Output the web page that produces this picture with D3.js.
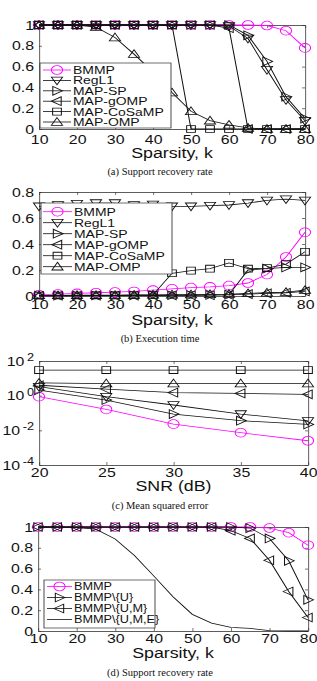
<!DOCTYPE html>
<html>
<head>
<meta charset="utf-8">
<script src="https://cdn.jsdelivr.net/npm/d3@7"></script>
<style>
  body { margin: 0; background: #fff; }
  svg { display: block; }
</style>
</head>
<body>
<svg id="fig" width="317" height="681"></svg>
<script>
// ---- data ----
const kVals = [10, 15, 20, 25, 30, 35, 40, 45, 50, 55, 60, 65, 70, 75, 80];
const snrVals = [20, 25, 30, 35, 40];

// (a) support recovery rate
const aBMMP   = [1, 1, 1, 1, 1, 1, 1, 1, 1, 1, 1, 1, 0.995, 0.945, 0.78];
const aRegL1  = [1, 1, 1, 1, 1, 1, 1, 1, 1, 1, 0.99, 0.87, 0.57, 0.28, 0.08];
const aSP     = [1, 1, 1, 1, 1, 1, 1, 1, 1, 1, 1, 0.9, 0.65, 0.31, 0.1];
const aGOMP   = [1, 1, 1, 1, 1, 1, 1, 1, 1, 1, 0.97, 0, 0, 0, 0];
const aCoSaMP = [1, 1, 1, 1, 1, 1, 1, 1, 0, 0, 0, 0, 0, 0, 0];
const aOMP    = [1, 1, 1, 0.98, 0.88, 0.72, 0.55, 0.35, 0.17, 0.08, 0.04, 0.01, 0, 0, 0];

// (b) execution time
const bBMMP   = [0.01, 0.015, 0.02, 0.025, 0.03, 0.035, 0.045, 0.055, 0.065, 0.07, 0.08, 0.1, 0.165, 0.3, 0.49];
const bRegL1  = [0.69, 0.7, 0.71, 0.715, 0.715, 0.7, 0.705, 0.69, 0.69, 0.695, 0.7, 0.715, 0.735, 0.745, 0.735];
const bSP     = [0.003, 0.003, 0.003, 0.004, 0.004, 0.005, 0.005, 0.006, 0.007, 0.008, 0.01, 0.2, 0.21, 0.22, 0.22];
const bGOMP   = [0.002, 0.002, 0.002, 0.003, 0.003, 0.003, 0.004, 0.005, 0.005, 0.006, 0.008, 0.015, 0.02, 0.025, 0.035];
const bCoSaMP = [0.004, 0.004, 0.004, 0.005, 0.005, 0.006, 0.008, 0.175, 0.195, 0.21, 0.255, 0.21, 0.215, 0.245, 0.34];
const bOMP    = [0.005, 0.005, 0.006, 0.006, 0.007, 0.008, 0.009, 0.01, 0.011, 0.013, 0.015, 0.02, 0.025, 0.03, 0.045];

// (c) mean squared error vs SNR
const cBMMP   = [0.87, 0.16, 0.023, 0.0073, 0.0025];
const cRegL1  = [3.3, 0.87, 0.29, 0.087, 0.035];
const cSP     = [2.1, 0.56, 0.087, 0.036, 0.022];
const cGOMP   = [4, 2.4, 1.5, 1.35, 1.2];
const cCoSaMP = [30, 30, 30, 30, 30];
const cOMP    = [5.5, 5, 5, 5, 5];

// (d) support recovery rate, ablation
const dBMMP = [1, 1, 1, 1, 1, 1, 1, 1, 1, 1, 1, 1, 0.99, 0.945, 0.825];
const dU    = [1, 1, 1, 1, 1, 1, 1, 1, 1, 1, 1, 0.99, 0.89, 0.675, 0.3];
const dUM   = [1, 1, 1, 1, 1, 1, 1, 1, 1, 1, 0.965, 0.89, 0.68, 0.38, 0.13];
const dUME  = [1, 1, 0.995, 0.98, 0.885, 0.725, 0.53, 0.33, 0.16, 0.075, 0.035, 0.025, 0.003, 0, 0];

const kTicks = [10, 20, 30, 40, 50, 60, 70, 80];
const rateTicks = [0, 0.2, 0.4, 0.6, 0.8, 1];
const timeTicks = [0, 0.2, 0.4, 0.6, 0.8];
const mseTicks = [1e-4, 1e-2, 1, 1e2];

// ---- drawing ----
const SX = 1.27; // the figure is stretched horizontally
const MAG = "#ff00ff";
const INK = "#111";
const AX = "#333";
const SANS = "'Liberation Sans', Arial, Helvetica, sans-serif";
const SERIF = "'Liberation Serif', 'Times New Roman', serif";

const svg = d3.select("#fig");

function shapePath(shape, r) {
  const h = r * 0.75;
  switch (shape) {
    case "up":    return `M0,${-r}L${r},${h}L${-r},${h}Z`;
    case "down":  return `M0,${r}L${r},${-h}L${-r},${-h}Z`;
    case "right": return `M${r},0L${-h},${-r}L${-h},${r}Z`;
    case "left":  return `M${-r},0L${h},${-r}L${h},${r}Z`;
    case "square": { const s = r * 0.78; return `M${-s},${-s}H${s}V${s}H${-s}Z`; }
    case "circle": return d3.symbol(d3.symbolCircle, Math.PI * r * r)();
    default: return null;
  }
}

function drawPanel(p) {
  const g = svg.append("g").attr("transform", `scale(${SX},1)`);
  const x = d3.scaleLinear().domain(p.xDomain).range([p.left / SX, p.right / SX]);
  const y = (p.log ? d3.scaleLog() : d3.scaleLinear()).domain(p.yDomain).range([p.bottom, p.top]);

  const styleAxis = (a, fs) => a
    .attr("font-family", SANS).attr("font-size", fs).attr("color", AX)
    .call(s => s.selectAll("path.domain").attr("stroke-width", 0.7))
    .call(s => s.selectAll(".tick line").attr("stroke-width", 0.6))
    .call(s => s.selectAll(".tick text").attr("fill", INK));

  g.append("g").attr("transform", `translate(0,${p.bottom})`)
    .call(d3.axisBottom(x).tickValues(p.xTicks).tickSizeInner(-3).tickSizeOuter(0).tickPadding(p.xPad))
    .call(a => styleAxis(a, 12.5));
  g.append("g").attr("transform", `translate(0,${p.top})`)
    .call(d3.axisTop(x).tickValues(p.xTicks).tickSizeInner(-3).tickSizeOuter(0).tickFormat(""))
    .call(a => styleAxis(a, 12.5));
  const yl = g.append("g").attr("transform", `translate(${p.left / SX},0)`)
    .call(d3.axisLeft(y).tickValues(p.yTicks).tickSizeInner(-3 / SX).tickSizeOuter(0)
      .tickPadding(5 / SX).tickFormat(p.log ? () => "" : d => String(d)))
    .call(a => styleAxis(a, 12.5));
  g.append("g").attr("transform", `translate(${p.right / SX},0)`)
    .call(d3.axisRight(y).tickValues(p.yTicks).tickSizeInner(-3 / SX).tickSizeOuter(0).tickFormat(""))
    .call(a => styleAxis(a, 12.5));

  if (p.log) {
    yl.selectAll(".tick text").each(function (d) {
      const t = d3.select(this);
      t.append("tspan").text("10");
      t.append("tspan").attr("dx", 2).attr("dy", "-0.45em").attr("font-size", 10)
        .text(String(Math.round(Math.log10(d))));
    });
  }

  // x label
  g.append("text").attr("x", ((p.left + p.right) / 2) / SX).attr("y", p.labelY)
    .attr("text-anchor", "middle").attr("font-family", SANS).attr("font-size", 14)
    .attr("fill", INK).text(p.xLabel);

  // series
  const line = d3.line().x(d => x(d[0])).y(d => y(d[1]));
  p.series.forEach(s => {
    const pts = p.xVals.map((v, i) => [v, s.values[i]]);
    g.append("path").attr("d", line(pts)).attr("fill", "none")
      .attr("stroke", s.color).attr("stroke-width", 0.8);
    if (s.shape) {
      g.append("g").selectAll("path").data(pts).join("path")
        .attr("transform", d => `translate(${x(d[0])},${y(d[1])})`)
        .attr("d", shapePath(s.shape, 4.4))
        .attr("fill", "none").attr("stroke", s.color).attr("stroke-width", 0.8);
    }
  });

  // legend
  if (p.legend) {
    const L = p.legend;
    const lg = g.append("g");
    lg.append("rect").attr("x", L.x0 / SX).attr("y", L.y0)
      .attr("width", (L.x1 - L.x0) / SX).attr("height", L.y1 - L.y0)
      .attr("fill", "#fff").attr("stroke", AX).attr("stroke-width", 0.7);
    p.series.forEach((s, i) => {
      const yy = L.row0 + i * L.step;
      lg.append("line").attr("x1", L.lx0 / SX).attr("x2", L.lx1 / SX)
        .attr("y1", yy).attr("y2", yy).attr("stroke", s.color).attr("stroke-width", 0.8);
      if (s.shape) {
        lg.append("path").attr("transform", `translate(${(L.lx0 + L.lx1) / 2 / SX},${yy})`)
          .attr("d", shapePath(s.shape, 4.4)).attr("fill", "none")
          .attr("stroke", s.color).attr("stroke-width", 0.8);
      }
      lg.append("text").attr("x", L.tx / SX).attr("y", yy).attr("dy", "0.36em")
        .attr("font-family", SANS).attr("font-size", L.fs).attr("fill", INK).text(s.name);
    });
  }

  // caption (not stretched)
  svg.append("text").attr("x", 160).attr("y", p.captionY).attr("text-anchor", "middle")
    .attr("font-family", SERIF).attr("font-size", 10.5).attr("fill", INK).text(p.caption);
}

const sixSeries = (bm, rl, sp, go, co, om) => [
  { name: "BMMP", values: bm, shape: "circle", color: MAG },
  { name: "RegL1", values: rl, shape: "down", color: INK },
  { name: "MAP-SP", values: sp, shape: "right", color: INK },
  { name: "MAP-gOMP", values: go, shape: "left", color: INK },
  { name: "MAP-CoSaMP", values: co, shape: "square", color: INK },
  { name: "MAP-OMP", values: om, shape: "up", color: INK }
];

drawPanel({
  left: 39, right: 305, top: 25, bottom: 129,
  xVals: kVals, xDomain: [10, 80], xTicks: kTicks, xPad: 6,
  yDomain: [0, 1], yTicks: rateTicks,
  xLabel: "Sparsity, k", labelY: 158,
  caption: "(a)  Support recovery rate", captionY: 175,
  series: sixSeries(aBMMP, aRegL1, aSP, aGOMP, aCoSaMP, aOMP),
  legend: { x0: 40, y0: 63, x1: 171, y1: 128, row0: 70, step: 10.4, lx0: 43, lx1: 71, tx: 73, fs: 11 }
});

drawPanel({
  left: 39, right: 305, top: 192, bottom: 296,
  xVals: kVals, xDomain: [10, 80], xTicks: kTicks, xPad: 4.5,
  yDomain: [0, 0.8], yTicks: timeTicks,
  xLabel: "Sparsity, k", labelY: 325,
  caption: "(b)  Execution time", captionY: 342,
  series: sixSeries(bBMMP, bRegL1, bSP, bGOMP, bCoSaMP, bOMP),
  legend: { x0: 41, y0: 203, x1: 172, y1: 274, row0: 211.7, step: 11, lx0: 43, lx1: 72, tx: 74, fs: 11 }
});

drawPanel({
  left: 39, right: 308, top: 361, bottom: 465, log: true,
  xVals: snrVals, xDomain: [20, 40], xTicks: snrVals, xPad: 3.5,
  yDomain: [1e-4, 1e2], yTicks: mseTicks,
  xLabel: "SNR (dB)", labelY: 491,
  caption: "(c)  Mean squared error", captionY: 509,
  series: sixSeries(cBMMP, cRegL1, cSP, cGOMP, cCoSaMP, cOMP)
});

drawPanel({
  left: 38, right: 308, top: 527, bottom: 631,
  xVals: kVals, xDomain: [10, 80], xTicks: kTicks, xPad: 3,
  yDomain: [0, 1], yTicks: rateTicks,
  xLabel: "Sparsity, k", labelY: 658,
  caption: "(d)  Support recovery rate", captionY: 676,
  series: [
    { name: "BMMP", values: dBMMP, shape: "circle", color: MAG },
    { name: "BMMP\\{U}", values: dU, shape: "right", color: INK },
    { name: "BMMP\\{U,M}", values: dUM, shape: "left", color: INK },
    { name: "BMMP\\{U,M,E}", values: dUME, shape: null, color: INK }
  ],
  legend: { x0: 44, y0: 580, x1: 155, y1: 628, row0: 586.5, step: 11, lx0: 47, lx1: 72, tx: 74, fs: 10 }
});
</script>
</body>
</html>
